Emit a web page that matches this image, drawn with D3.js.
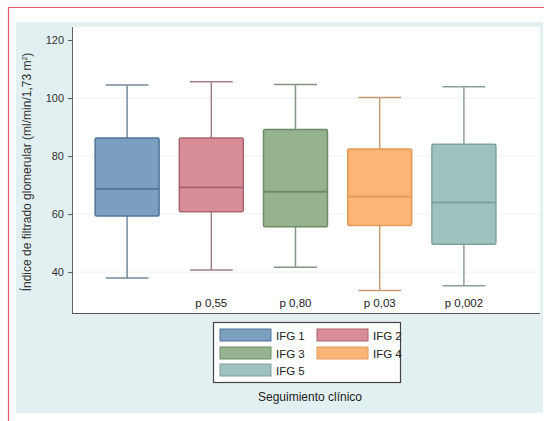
<!DOCTYPE html>
<html>
<head>
<meta charset="utf-8">
<script src="https://cdn.jsdelivr.net/npm/d3@7"></script>
<style>
  body { margin: 0; background: #fff; }
  text { font-family: "Liberation Sans", Arial, sans-serif; }
</style>
</head>
<body>
<script>
// data
var groups = ["IFG 1", "IFG 2", "IFG 3", "IFG 4", "IFG 5"];
var lowW   = [38.0, 40.7, 41.7, 33.7, 35.3];
var q1     = [59.3, 60.8, 55.6, 56.1, 49.6];
var median = [68.7, 69.2, 67.7, 66.0, 64.0];
var q3     = [86.2, 86.2, 89.2, 82.4, 84.1];
var highW  = [104.5, 105.6, 104.7, 100.2, 103.9];
var pLabels = ["", "p 0,55", "p 0,80", "p 0,03", "p 0,002"];
var yTicks = [40, 60, 80, 100, 120];

var fills   = ["#7a9fbf", "#d98d98", "#94b38e", "#fdb577", "#9fc2bf"];
var strokes = ["#50759a", "#a8656f", "#6b8c66", "#e09a58", "#7ca19d"];

var W = 544, H = 421;
var svg = d3.select("body").append("svg")
  .attr("width", W)
  .attr("height", H);

// red frame of the figure
svg.append("line").attr("x1", 8).attr("x2", W).attr("y1", 7.5).attr("y2", 7.5)
  .style("stroke", "#e2576a").style("stroke-width", 1.2);
svg.append("line").attr("x1", 8.5).attr("x2", 8.5).attr("y1", 7).attr("y2", H)
  .style("stroke", "#e2576a").style("stroke-width", 1.2);

// light blue graph region
svg.append("rect").attr("x", 16).attr("y", 22).attr("width", W - 17).attr("height", 391)
  .style("fill", "#e3f0f2");

var plot = { left: 72, top: 27, right: 540, bottom: 313 };

svg.append("rect")
  .attr("x", plot.left).attr("y", plot.top)
  .attr("width", plot.right - plot.left).attr("height", plot.bottom - plot.top)
  .style("fill", "#fff");

var y = d3.scaleLinear()
  .domain([25.9, 124.5])
  .range([plot.bottom, plot.top]);

var x = d3.scaleBand()
  .domain(groups)
  .range([85, 506])
  .paddingInner(0.24)
  .paddingOuter(0.12);

// grid lines
svg.append("g").selectAll("line")
  .data(yTicks.slice(0, 4))
  .enter()
  .append("line")
  .attr("x1", plot.left).attr("x2", plot.right)
  .attr("y1", function(d) { return y(d); })
  .attr("y2", function(d) { return y(d); })
  .style("stroke", "#edf1f2")
  .style("stroke-width", 1);

// y axis
var yAxis = svg.append("g")
  .attr("transform", "translate(" + plot.left + ",0)")
  .call(d3.axisLeft(y).tickValues(yTicks).tickSize(4).tickPadding(4));
yAxis.select(".domain").remove();
yAxis.selectAll(".tick line").style("stroke", "#555");
yAxis.selectAll(".tick text").style("font-size", "11px").style("fill", "#333");

svg.append("line")
  .attr("x1", plot.left + 0.5).attr("x2", plot.left + 0.5)
  .attr("y1", plot.top).attr("y2", plot.bottom)
  .style("stroke", "#666");
svg.append("line")
  .attr("x1", plot.left).attr("x2", plot.right)
  .attr("y1", plot.bottom + 0.5).attr("y2", plot.bottom + 0.5)
  .style("stroke", "#555").style("stroke-width", 1.2);

svg.append("text")
  .attr("transform", "translate(31," + ((plot.top + plot.bottom) / 2 + 2) + ") rotate(-90)")
  .attr("text-anchor", "middle")
  .style("font-size", "12px")
  .style("fill", "#333")
  .html('Índice de filtrado glomerular (ml/min/1,73 m<tspan dy="-4" font-size="7px">2</tspan><tspan dy="4">)</tspan>');

// box plots
var boxes = svg.append("g").selectAll("g")
  .data(groups)
  .enter()
  .append("g");

boxes.each(function(d, i) {
  var g = d3.select(this);
  var cx = x(d) + x.bandwidth() / 2;
  var bw = x.bandwidth();
  var cap = bw * 0.67;
  var wcol = d3.interpolateRgb(strokes[i], "#a0a0a0")(0.45);

  g.append("line")
    .attr("x1", cx).attr("x2", cx)
    .attr("y1", y(highW[i])).attr("y2", y(q3[i]))
    .style("stroke", wcol).style("stroke-width", 1.5);
  g.append("line")
    .attr("x1", cx).attr("x2", cx)
    .attr("y1", y(q1[i])).attr("y2", y(lowW[i]))
    .style("stroke", wcol).style("stroke-width", 1.5);
  g.append("line")
    .attr("x1", cx - cap / 2).attr("x2", cx + cap / 2)
    .attr("y1", y(highW[i])).attr("y2", y(highW[i]))
    .style("stroke", wcol).style("stroke-width", 1.5);
  g.append("line")
    .attr("x1", cx - cap / 2).attr("x2", cx + cap / 2)
    .attr("y1", y(lowW[i])).attr("y2", y(lowW[i]))
    .style("stroke", wcol).style("stroke-width", 1.5);

  g.append("rect")
    .attr("x", x(d)).attr("width", bw)
    .attr("y", y(q3[i])).attr("height", y(q1[i]) - y(q3[i]))
    .attr("rx", 1.5)
    .style("fill", fills[i])
    .style("stroke", strokes[i])
    .style("stroke-width", 1.5);
  g.append("line")
    .attr("x1", x(d)).attr("x2", x(d) + bw)
    .attr("y1", y(median[i])).attr("y2", y(median[i]))
    .style("stroke", strokes[i]).style("stroke-width", 1.8);

  g.append("text")
    .attr("x", cx).attr("y", 307)
    .attr("text-anchor", "middle")
    .style("font-size", "11.5px")
    .style("fill", "#222")
    .text(pLabels[i]);
});

// legend
var lg = svg.append("g");
lg.append("rect")
  .attr("x", 213.5).attr("y", 322.5).attr("width", 187).attr("height", 60)
  .style("fill", "#fff").style("stroke", "#444").style("stroke-width", 1.2);

var legendPos = [[220, 329], [317, 329], [220, 347], [317, 347], [220, 364]];
var items = lg.selectAll("g")
  .data(groups)
  .enter()
  .append("g")
  .attr("transform", function(d, i) { return "translate(" + legendPos[i][0] + "," + legendPos[i][1] + ")"; });

items.append("rect")
  .attr("width", 51).attr("height", 12)
  .style("fill", function(d, i) { return fills[i]; })
  .style("stroke", function(d, i) { return strokes[i]; })
  .style("stroke-width", 1);
items.append("text")
  .attr("x", 56).attr("y", 10.5)
  .style("font-size", "11.5px")
  .style("fill", "#222")
  .text(function(d) { return d; });

svg.append("text")
  .attr("x", 310).attr("y", 401)
  .attr("text-anchor", "middle")
  .style("font-size", "12px")
  .style("fill", "#222")
  .text("Seguimiento clínico");
</script>
</body>
</html>
